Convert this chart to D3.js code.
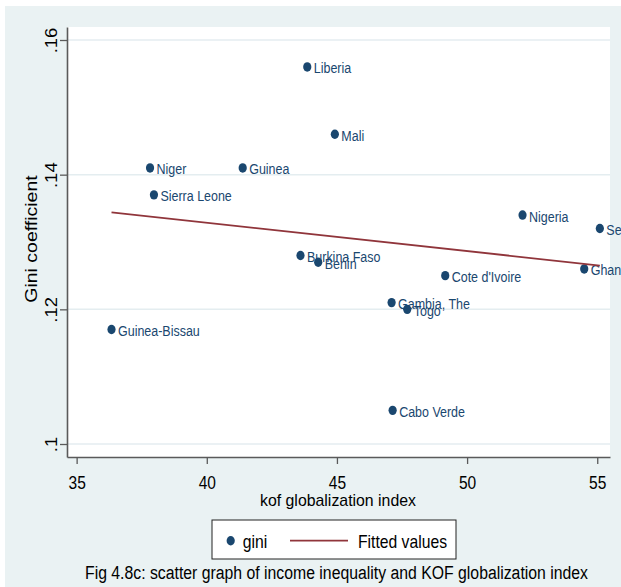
<!DOCTYPE html>
<html>
<head>
<meta charset="utf-8">
<script src="https://cdn.jsdelivr.net/npm/d3@7"></script>
<style>
  body { margin: 0; background: #fff; }
  svg { display: block; font-family: 'Liberation Sans', Arial, sans-serif; }
</style>
</head>
<body>
<div id="graph"></div>
<script>
// Countries, KOF globalization index (x) and Gini coefficient (y)
const countries = ['Liberia', 'Mali', 'Niger', 'Guinea', 'Sierra Leone', 'Nigeria', 'Senegal', 'Ghana',
  'Burkina Faso', 'Benin', "Cote d'Ivoire", 'Gambia, The', 'Togo', 'Cabo Verde', 'Guinea-Bissau'];
const kof = [43.86, 44.92, 37.82, 41.38, 37.97, 52.13, 55.10, 54.50, 43.60, 44.28, 49.16, 47.10, 47.70, 47.14, 36.34];
const gini = [0.156, 0.146, 0.141, 0.141, 0.137, 0.134, 0.132, 0.126, 0.128, 0.127, 0.125, 0.121, 0.120, 0.105, 0.117];

// Fitted values (end points of the line)
const fitKof = [36.34, 55.10];
const fitGini = [0.1344, 0.1265];

// Ticks
const xTicks = [35, 40, 45, 50, 55];
const yTicks = [0.10, 0.12, 0.14, 0.16];
const yTickLabels = ['.1', '.12', '.14', '.16'];

const navy = '#1a476f';
const maroon = '#90353b';

drawChart();

function drawChart() {
  const width = 621;
  const height = 587;
  const plot = {left: 67, right: 610, top: 27, bottom: 457};

  const svg = d3.select('#graph')
      .append('svg')
      .attr('width', width)
      .attr('height', height);

  // graph region
  svg.append('rect')
      .attr('x', 5).attr('y', 6)
      .attr('width', width - 5).attr('height', height - 6)
      .attr('fill', '#eaf2f3');

  // plot region
  svg.append('rect')
      .attr('x', plot.left).attr('y', plot.top)
      .attr('width', plot.right - plot.left).attr('height', plot.bottom - plot.top)
      .attr('fill', '#fff');

  const x = d3.scaleLinear().domain([34.63, 55.49]).range([plot.left, plot.right]);
  const y = d3.scaleLinear().domain([0.09807, 0.16193]).range([plot.bottom, plot.top]);

  // grid lines
  svg.append('g').selectAll('line')
      .data(yTicks)
      .enter()
      .append('line')
      .attr('x1', plot.left).attr('x2', plot.right)
      .attr('y1', d => y(d)).attr('y2', d => y(d))
      .attr('stroke', '#e4edf0')
      .attr('stroke-width', 1.5);

  // y axis
  const yAxis = svg.append('g')
      .attr('transform', `translate(${plot.left},0)`)
      .call(d3.axisLeft(y).tickValues(yTicks).tickSize(7).tickSizeOuter(0)
          .tickFormat((d, i) => yTickLabels[i]));
  yAxis.selectAll('text')
      .attr('x', null).attr('dy', null)
      .attr('text-anchor', 'middle')
      .attr('transform', 'translate(-10,0) scale(0.85,1) rotate(-90)')
      .attr('font-size', 18.5)
      .attr('fill', '#000');

  // x axis
  const xAxis = svg.append('g')
      .attr('transform', `translate(0,${plot.bottom})`)
      .call(d3.axisBottom(x).tickValues(xTicks).tickSize(7).tickSizeOuter(0));
  xAxis.selectAll('text')
      .attr('y', null).attr('dy', null)
      .attr('transform', 'translate(0,32) scale(0.84,1)')
      .attr('font-size', 18.5)
      .attr('fill', '#000');

  svg.selectAll('.domain')
      .attr('stroke', '#5a5a5a')
      .attr('stroke-width', 1.6);
  svg.selectAll('.tick line')
      .attr('stroke', '#5a5a5a')
      .attr('stroke-width', 1.3);

  // axis titles
  svg.append('text')
      .attr('transform', 'translate(37,239) scale(0.85,1) rotate(-90)')
      .attr('text-anchor', 'middle')
      .attr('font-size', 19.5)
      .text('Gini coefficient');

  svg.append('text')
      .attr('x', 338).attr('y', 506)
      .attr('text-anchor', 'middle')
      .attr('font-size', 17)
      .attr('textLength', 156)
      .attr('lengthAdjust', 'spacingAndGlyphs')
      .text('kof globalization index');

  // scatter points
  const points = svg.append('g');
  points.selectAll('ellipse')
      .data(countries)
      .enter()
      .append('ellipse')
      .attr('cx', (d, i) => x(kof[i]))
      .attr('cy', (d, i) => y(gini[i]))
      .attr('rx', 4.1)
      .attr('ry', 4.7)
      .attr('fill', navy);

  // marker labels
  points.selectAll('text')
      .data(countries)
      .enter()
      .append('text')
      .attr('transform', (d, i) => `translate(${x(kof[i]) + 6.5},${y(gini[i]) + 6.5}) scale(0.81,1)`)
      .attr('font-size', 15.4)
      .attr('fill', navy)
      .text(d => d);

  // fitted values
  svg.append('line')
      .attr('x1', x(fitKof[0])).attr('y1', y(fitGini[0]))
      .attr('x2', x(fitKof[1])).attr('y2', y(fitGini[1]))
      .attr('stroke', maroon)
      .attr('stroke-width', 1.8);

  // legend
  const legend = svg.append('g');
  legend.append('rect')
      .attr('x', 212).attr('y', 520)
      .attr('width', 244).attr('height', 39)
      .attr('fill', '#fff')
      .attr('stroke', '#222')
      .attr('stroke-width', 1);
  legend.append('ellipse')
      .attr('cx', 230.7).attr('cy', 540.7)
      .attr('rx', 4.1).attr('ry', 4.7)
      .attr('fill', navy);
  legend.append('text')
      .attr('transform', 'translate(242.7,548) scale(0.83,1)')
      .attr('font-size', 19)
      .text('gini');
  legend.append('line')
      .attr('x1', 290).attr('x2', 348)
      .attr('y1', 540.7).attr('y2', 540.7)
      .attr('stroke', maroon)
      .attr('stroke-width', 1.8);
  legend.append('text')
      .attr('x', 358).attr('y', 548)
      .attr('font-size', 19)
      .attr('textLength', 89)
      .attr('lengthAdjust', 'spacingAndGlyphs')
      .text('Fitted values');

  // caption
  svg.append('text')
      .attr('x', 85).attr('y', 578.5)
      .attr('font-size', 18)
      .attr('textLength', 503)
      .attr('lengthAdjust', 'spacingAndGlyphs')
      .text('Fig 4.8c: scatter graph of income inequality and KOF globalization index');
}
</script>
</body>
</html>
